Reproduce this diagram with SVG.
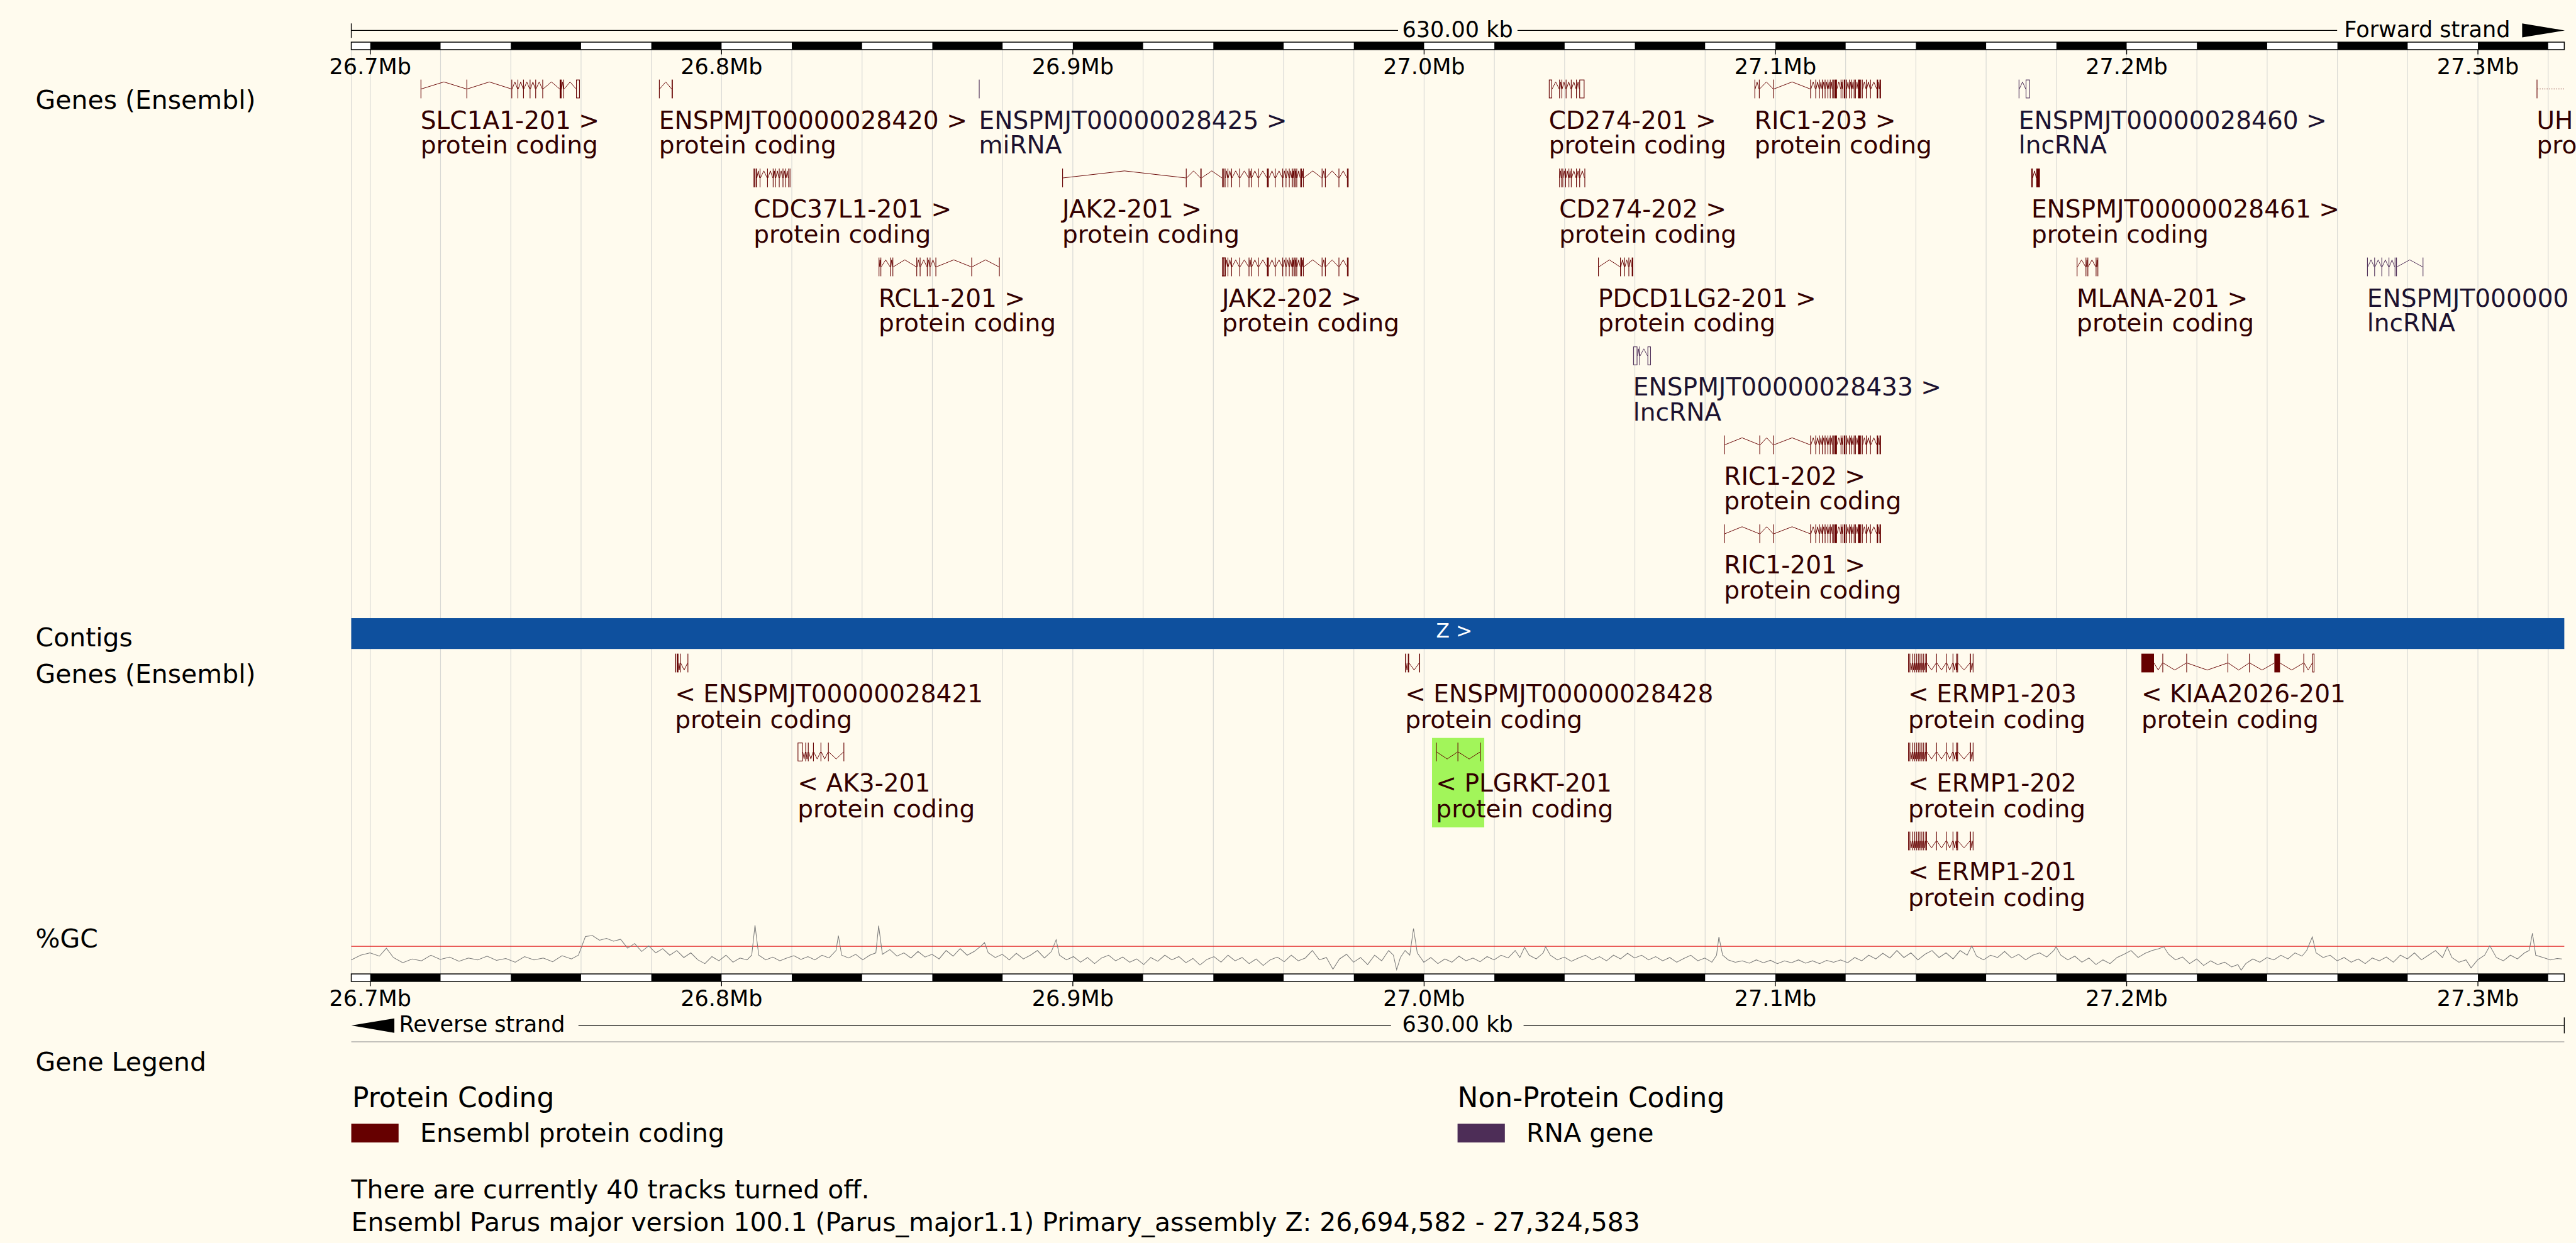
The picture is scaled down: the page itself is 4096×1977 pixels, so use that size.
<svg xmlns="http://www.w3.org/2000/svg" xmlns:xlink="http://www.w3.org/1999/xlink" width="4096" height="1977" viewBox="0 0 4096 1977">
<style>
text{font-family:"DejaVu Sans","Liberation Sans",sans-serif}
.t{font-size:55px;fill:#000}
.r{font-size:47px;fill:#000}
.gl{font-size:52.5px;fill:#330000}
.gn{font-size:52.5px;fill:#1c1230}
.e{fill:#660000}
.eo{fill:none;stroke:#660000;stroke-width:1.5}
.i{fill:none;stroke:#660000;stroke-width:1.3}
.n .e{fill:#4d2d57}
.n .eo{stroke:#4d2d57}
.n .i{stroke:#4d2d57}
.grid line{stroke:#d7d7d3;stroke-width:1.5}
.bk{fill:#000}
.ln{stroke:#000;stroke-width:1.8;fill:none}
</style>
<defs>
<g id="ricD">
<rect class="e" x="0" width="1.5" height="40"/><rect class="e" x="11" width="1.5" height="40"/><rect class="e" x="19" width="1.5" height="40"/><rect class="e" x="25" width="1.5" height="40"/><rect class="e" x="31" width="1.5" height="40"/><rect class="e" x="37" width="1.5" height="40"/><rect class="e" x="42" width="1.5" height="40"/><rect class="e" x="47" width="1.5" height="40"/><rect class="e" x="49.5" width="1.5" height="40"/><rect class="e" x="52" width="5" height="40"/><rect class="e" x="65" width="1.5" height="40"/><rect class="e" x="69" width="1.5" height="40"/><rect class="e" x="72" width="3" height="40"/><rect class="e" x="76" width="2" height="40"/><rect class="e" x="83" width="1.5" height="40"/><rect class="e" x="88" width="1.5" height="40"/><rect class="e" x="93" width="1.5" height="40"/><rect class="e" x="96" width="1.5" height="40"/><rect class="e" x="102" width="6" height="40"/><rect class="e" x="110" width="2" height="40"/><rect class="e" x="119" width="1.5" height="40"/><rect class="e" x="128" width="1.5" height="40"/><rect class="e" x="142" width="3" height="40"/><rect class="e" x="148" width="3" height="40"/>
<path class="i" d="M1.5 20L6.3 5L11 20M12.5 20L15.8 5L19 20M20.5 20L22.8 5L25 20M26.5 20L28.8 5L31 20M32.5 20L34.8 5L37 20M38.5 20L40.3 5L42 20M43.5 20L45.3 5L47 20M57 20L61 5L65 20M66.5 20L67.8 5L69 20M78 20L80.5 5L83 20M84.5 20L86.3 5L88 20M89.5 20L91.3 5L93 20M97.5 20L99.8 5L102 20M112 20L115.5 5L119 20M120.5 20L124.3 5L128 20M129.5 20L135.8 5L142 20M145 20L146.5 5L148 20"/>
</g>
<g id="jakD">
<rect class="e" x="0" width="1.5" height="40"/><rect class="e" x="3" width="1.5" height="40"/><rect class="e" x="6" width="1.5" height="40"/><rect class="e" x="12" width="1.5" height="40"/><rect class="e" x="20" width="1.5" height="40"/><rect class="e" x="37" width="1.5" height="40"/><rect class="e" x="57" width="1.5" height="40"/><rect class="e" x="62" width="1.5" height="40"/><rect class="e" x="77" width="1.5" height="40"/><rect class="e" x="96" width="2.5" height="40"/><rect class="e" x="99" width="1.5" height="40"/><rect class="e" x="113" width="1.5" height="40"/><rect class="e" x="129" width="1.5" height="40"/><rect class="e" x="136" width="1.5" height="40"/><rect class="e" x="143" width="1.5" height="40"/><rect class="e" x="149" width="2" height="40"/><rect class="e" x="153" width="1.5" height="40"/><rect class="e" x="155" width="2" height="40"/><rect class="e" x="159" width="1.5" height="40"/><rect class="e" x="167" width="1.5" height="40"/><rect class="e" x="169" width="1.5" height="40"/><rect class="e" x="173" width="1.5" height="40"/><rect class="e" x="213" width="1.5" height="40"/><rect class="e" x="220" width="1.5" height="40"/><rect class="e" x="249" width="1.5" height="40"/><rect class="e" x="267" width="1.5" height="40"/><rect class="e" x="269" width="1.5" height="40"/>
<path class="i" d="M7.5 20L9.8 5L12 20M13.5 20L16.8 5L20 20M21.5 20L29.3 5L37 20M38.5 20L47.8 5L57 20M58.5 20L60.3 5L62 20M63.5 20L70.3 5L77 20M78.5 20L87.3 5L96 20M100.5 20L106.8 5L113 20M114.5 20L121.8 5L129 20M130.5 20L133.3 5L136 20M137.5 20L140.3 5L143 20M144.5 20L146.8 5L149 20M151 20L152 5L153 20M157 20L158 5L159 20M160.5 20L163.8 5L167 20M170.5 20L171.8 5L173 20M174.5 20L193.8 5L213 20M214.5 20L217.3 5L220 20M221.5 20L235.3 5L249 20M250.5 20L258.8 5L267 20"/>
</g>
<g id="ermp">
<rect class="e" x="0" width="1.5" height="40"/><rect class="e" x="3" width="1.5" height="40"/><rect class="e" x="8.7" width="1.5" height="40"/><rect class="e" x="13" width="1.5" height="40"/><rect class="e" x="17" width="1.5" height="40"/><rect class="e" x="21" width="1.5" height="40"/><rect class="e" x="24.6" width="1.5" height="40"/><rect class="e" x="28.6" width="1.5" height="40"/><rect class="e" x="32.5" width="1.5" height="40"/><rect class="e" x="37" width="3" height="40"/><rect class="e" x="60" width="1.5" height="40"/><rect class="e" x="81" width="1.5" height="40"/><rect class="e" x="95" width="1.5" height="40"/><rect class="e" x="102" width="1.5" height="40"/><rect class="e" x="105" width="1.5" height="40"/><rect class="e" x="132" width="2" height="40"/><rect class="e" x="138" width="1.5" height="40"/>
<path class="i" d="M4.5 20L6.6 35L8.7 20M10.2 20L11.6 35L13 20M14.5 20L15.8 35L17 20M18.5 20L19.8 35L21 20M22.5 20L23.6 35L24.6 20M26.1 20L27.4 35L28.6 20M30.1 20L31.3 35L32.5 20M34 20L35.5 35L37 20M40 20L50 35L60 20M61.5 20L71.3 35L81 20M82.5 20L88.8 35L95 20M96.5 20L99.3 35L102 20M103.5 20L104.3 35L105 20M106.5 20L119.3 35L132 20M134 20L136 35L138 20"/>
</g>
</defs>
<rect width="4096" height="1977" fill="#fffbee"/>
<g transform="scale(0.744727)">
<g class="grid" id="grid">
<line x1="750" y1="106" x2="750" y2="2080"/>
<line x1="790.6" y1="106" x2="790.6" y2="2080"/><line x1="940.6" y1="106" x2="940.6" y2="2080"/><line x1="1090.6" y1="106" x2="1090.6" y2="2080"/><line x1="1240.6" y1="106" x2="1240.6" y2="2080"/><line x1="1390.6" y1="106" x2="1390.6" y2="2080"/><line x1="1540.6" y1="106" x2="1540.6" y2="2080"/><line x1="1690.6" y1="106" x2="1690.6" y2="2080"/><line x1="1840.6" y1="106" x2="1840.6" y2="2080"/><line x1="1990.6" y1="106" x2="1990.6" y2="2080"/><line x1="2140.6" y1="106" x2="2140.6" y2="2080"/><line x1="2290.6" y1="106" x2="2290.6" y2="2080"/><line x1="2440.6" y1="106" x2="2440.6" y2="2080"/><line x1="2590.6" y1="106" x2="2590.6" y2="2080"/><line x1="2740.6" y1="106" x2="2740.6" y2="2080"/><line x1="2890.6" y1="106" x2="2890.6" y2="2080"/><line x1="3040.6" y1="106" x2="3040.6" y2="2080"/><line x1="3190.6" y1="106" x2="3190.6" y2="2080"/><line x1="3340.6" y1="106" x2="3340.6" y2="2080"/><line x1="3490.6" y1="106" x2="3490.6" y2="2080"/><line x1="3640.6" y1="106" x2="3640.6" y2="2080"/><line x1="3790.6" y1="106" x2="3790.6" y2="2080"/><line x1="3940.6" y1="106" x2="3940.6" y2="2080"/><line x1="4090.6" y1="106" x2="4090.6" y2="2080"/><line x1="4240.6" y1="106" x2="4240.6" y2="2080"/><line x1="4390.6" y1="106" x2="4390.6" y2="2080"/><line x1="4540.6" y1="106" x2="4540.6" y2="2080"/><line x1="4690.6" y1="106" x2="4690.6" y2="2080"/><line x1="4840.6" y1="106" x2="4840.6" y2="2080"/><line x1="4990.6" y1="106" x2="4990.6" y2="2080"/><line x1="5140.6" y1="106" x2="5140.6" y2="2080"/><line x1="5290.6" y1="106" x2="5290.6" y2="2080"/><line x1="5440.6" y1="106" x2="5440.6" y2="2080"/>
</g>
<g id="track-labels">
<text class="t" x="76" y="232">Genes (Ensembl)</text>
<text class="t" x="76" y="1380">Contigs</text>
<text class="t" x="76" y="1458">Genes (Ensembl)</text>
<text class="t" x="76" y="2024">%GC</text>
<text class="t" x="76" y="2287">Gene Legend</text>
</g>
<g id="top-ruler">
<path class="ln" d="M750 65H2985M3240 65H4990M750 50V81"/>
<text class="r" x="3112" y="79" text-anchor="middle">630.00 kb</text>
<text class="r" x="5005" y="79">Forward strand</text>
<polygon class="bk" points="5385,50 5476,65 5385,80"/>
<rect x="750" y="90" width="4725" height="16" fill="#fff" stroke="#000" stroke-width="2"/>
<g class="bk"><rect x="790.6" y="90" width="150" height="16"/><rect x="1090.6" y="90" width="150" height="16"/><rect x="1390.6" y="90" width="150" height="16"/><rect x="1690.6" y="90" width="150" height="16"/><rect x="1990.6" y="90" width="150" height="16"/><rect x="2290.6" y="90" width="150" height="16"/><rect x="2590.6" y="90" width="150" height="16"/><rect x="2890.6" y="90" width="150" height="16"/><rect x="3190.6" y="90" width="150" height="16"/><rect x="3490.6" y="90" width="150" height="16"/><rect x="3790.6" y="90" width="150" height="16"/><rect x="4090.6" y="90" width="150" height="16"/><rect x="4390.6" y="90" width="150" height="16"/><rect x="4690.6" y="90" width="150" height="16"/><rect x="4990.6" y="90" width="150" height="16"/><rect x="5290.6" y="90" width="150" height="16"/></g>
<path class="ln" d="M790.6 106V116M1540.6 106V116M2290.6 106V116M3040.6 106V116M3790.6 106V116M4540.6 106V116M5290.6 106V116"/>
<g class="r" text-anchor="middle"><text class="r" x="790.6" y="159">26.7Mb</text><text class="r" x="1540.6" y="159">26.8Mb</text><text class="r" x="2290.6" y="159">26.9Mb</text><text class="r" x="3040.6" y="159">27.0Mb</text><text class="r" x="3790.6" y="159">27.1Mb</text><text class="r" x="4540.6" y="159">27.2Mb</text><text class="r" x="5290.6" y="159">27.3Mb</text></g>
</g>
<g id="gene-SLC1A1-201" transform="translate(898,170)">
<rect class="e" x="0" width="1.5" height="40"/><rect class="e" x="98" width="1.5" height="40"/><rect class="e" x="194" width="1.5" height="40"/><rect class="e" x="207" width="1.5" height="40"/><rect class="e" x="219" width="1.5" height="40"/><rect class="e" x="233" width="1.5" height="40"/><rect class="e" x="245" width="1.5" height="40"/><rect class="e" x="260" width="1.5" height="40"/><rect class="e" x="297" width="4" height="40"/><rect class="e" x="305" width="1.5" height="40"/><rect class="eo" x="332.75" y="0.75" width="6.5" height="38.5"/>
<path class="i" d="M1.5 20L49.8 5L98 20M99.5 20L146.8 5L194 20M195.5 20L201.3 5L207 20M208.5 20L213.8 5L219 20M220.5 20L226.8 5L233 20M234.5 20L239.8 5L245 20M246.5 20L253.3 5L260 20M261.5 20L279.3 5L297 20M301 20L303 5L305 20M306.5 20L319.3 5L332 20"/>
<text class="gl" x="0" y="105">SLC1A1-201 &gt;</text><text class="gl" x="0" y="158">protein coding</text>
</g>
<g id="gene-ENSPMJT00000028420" transform="translate(1407,170)">
<rect class="e" x="0" width="1.5" height="40"/><rect class="e" x="27" width="2.5" height="40"/>
<path class="i" d="M1.5 20L14.3 5L27 20"/>
<text class="gl" x="0" y="105">ENSPMJT00000028420 &gt;</text><text class="gl" x="0" y="158">protein coding</text>
</g>
<g id="gene-ENSPMJT00000028425" class="n" transform="translate(2090,170)">
<rect class="e" x="0" width="1.5" height="40"/>
<text class="gn" x="0" y="105">ENSPMJT00000028425 &gt;</text><text class="gn" x="0" y="158">miRNA</text>
</g>
<g id="gene-CD274-201" transform="translate(3307,170)">
<rect class="eo" x="0.75" y="0.75" width="5.5" height="38.5"/><rect class="e" x="22" width="1.5" height="40"/><rect class="e" x="27" width="1.5" height="40"/><rect class="e" x="36" width="1.5" height="40"/><rect class="e" x="47" width="1.5" height="40"/><rect class="e" x="58" width="1.5" height="40"/><rect class="eo" x="65.75" y="0.75" width="9.5" height="38.5"/>
<path class="i" d="M7 20L14.5 5L22 20M23.5 20L25.3 5L27 20M28.5 20L32.3 5L36 20M37.5 20L42.3 5L47 20M48.5 20L53.3 5L58 20M59.5 20L62.3 5L65 20"/>
<text class="gl" x="0" y="105">CD274-201 &gt;</text><text class="gl" x="0" y="158">protein coding</text>
</g>
<g id="gene-RIC1-203" transform="translate(3746,170)">
<rect class="e" x="0" width="1.5" height="40"/><rect class="e" x="9.5" width="1.5" height="40"/><rect class="e" x="40" width="1.5" height="40"/>
<path class="i" d="M1.5 20L5.5 5L9.5 20M11 20L25.5 5L40 20M41.5 20L80.3 5L119 20"/>
<use xlink:href="#ricD" x="119"/>
<text class="gl" x="0" y="105">RIC1-203 &gt;</text><text class="gl" x="0" y="158">protein coding</text>
</g>
<g id="gene-ENSPMJT00000028460" class="n" transform="translate(4310,170)">
<rect class="e" x="0" width="1.5" height="40"/><rect class="eo" x="15.75" y="0.75" width="7.5" height="38.5"/>
<path class="i" d="M1.5 20L8.3 5L15 20"/>
<text class="gn" x="0" y="105">ENSPMJT00000028460 &gt;</text><text class="gn" x="0" y="158">lncRNA</text>
</g>
<g id="gene-UH" transform="translate(5416,170)">
<rect class="e" x="0" width="1.5" height="40"/>
<path class="i" d="M1.5 20H59" stroke-dasharray="2 3"/>
<text class="gl" x="0" y="105">UH</text><text class="gl" x="0" y="158">pro</text>
</g>
<g id="gene-CDC37L1-201" transform="translate(1609,360)">
<rect class="e" x="0" width="2.5" height="40"/><rect class="e" x="4.5" width="2.5" height="40"/><rect class="e" x="13" width="1.5" height="40"/><rect class="e" x="29" width="1.5" height="40"/><rect class="e" x="41" width="1.5" height="40"/><rect class="e" x="46" width="1.5" height="40"/><rect class="e" x="54" width="1.5" height="40"/><rect class="e" x="62" width="1.5" height="40"/><rect class="e" x="68" width="1.5" height="40"/><rect class="e" x="74" width="1.5" height="40"/><rect class="e" x="77" width="1.5" height="40"/>
<path class="i" d="M7 20L10 5L13 20M14.5 20L21.8 5L29 20M30.5 20L35.8 5L41 20M42.5 20L44.3 5L46 20M47.5 20L50.8 5L54 20M55.5 20L58.8 5L62 20M63.5 20L65.8 5L68 20M69.5 20L71.8 5L74 20"/>
<text class="gl" x="0" y="105">CDC37L1-201 &gt;</text><text class="gl" x="0" y="158">protein coding</text>
</g>
<g id="gene-JAK2-201" transform="translate(2268,360)">
<rect class="e" x="0" width="1.5" height="40"/><rect class="e" x="264" width="1.5" height="40"/><rect class="e" x="295" width="2.5" height="40"/>
<path class="i" d="M1.5 20L132.8 5L264 20M265.5 20L280.3 5L295 20M297.5 20L319.3 5L341 20"/>
<use xlink:href="#jakD" x="341"/>
<text class="gl" x="0" y="105">JAK2-201 &gt;</text><text class="gl" x="0" y="158">protein coding</text>
</g>
<g id="gene-CD274-202" transform="translate(3329,360)">
<rect class="e" x="0" width="1.5" height="40"/><rect class="e" x="4.5" width="1.5" height="40"/><rect class="e" x="7" width="1.5" height="40"/><rect class="e" x="13" width="1.5" height="40"/><rect class="e" x="20" width="1.5" height="40"/><rect class="e" x="25" width="1.5" height="40"/><rect class="e" x="36" width="1.5" height="40"/><rect class="e" x="43" width="1.5" height="40"/><rect class="e" x="54" width="1.5" height="40"/>
<path class="i" d="M1.5 20L3 5L4.5 20M8.5 20L10.8 5L13 20M14.5 20L17.3 5L20 20M21.5 20L23.3 5L25 20M26.5 20L31.3 5L36 20M37.5 20L40.3 5L43 20M44.5 20L49.3 5L54 20"/>
<text class="gl" x="0" y="105">CD274-202 &gt;</text><text class="gl" x="0" y="158">protein coding</text>
</g>
<g id="gene-ENSPMJT00000028461" transform="translate(4337,360)">
<rect class="e" x="0" width="3" height="40"/><rect class="e" x="10.7" width="7.7" height="40"/>
<path class="i" d="M3 20L6.9 5L10.7 20"/>
<text class="gl" x="0" y="105">ENSPMJT00000028461 &gt;</text><text class="gl" x="0" y="158">protein coding</text>
</g>
<g id="gene-RCL1-201" transform="translate(1876,550)">
<rect class="e" x="0" width="1.5" height="40"/><rect class="e" x="4" width="1.5" height="40"/><rect class="e" x="24.5" width="1.5" height="40"/><rect class="e" x="29.6" width="1.5" height="40"/><rect class="e" x="80.6" width="1.5" height="40"/><rect class="e" x="87.8" width="1.5" height="40"/><rect class="e" x="103" width="1.5" height="40"/><rect class="e" x="109" width="1.5" height="40"/><rect class="e" x="121.4" width="1.5" height="40"/><rect class="e" x="197.9" width="1.5" height="40"/><rect class="e" x="257" width="1.5" height="40"/>
<path class="i" d="M1.5 20L2.8 5L4 20M5.5 20L15 5L24.5 20M26 20L27.8 5L29.6 20M31.1 20L55.9 5L80.6 20M82.1 20L85 5L87.8 20M89.3 20L96.2 5L103 20M104.5 20L106.8 5L109 20M110.5 20L116 5L121.4 20M122.9 20L160.4 5L197.9 20M199.4 20L228.2 5L257 20"/>
<text class="gl" x="0" y="105">RCL1-201 &gt;</text><text class="gl" x="0" y="158">protein coding</text>
</g>
<g id="gene-JAK2-202" transform="translate(2609,550)">
<rect class="eo" x="0.75" y="0.75" width="6.5" height="38.5"/>
<use xlink:href="#jakD" x="0"/>
<text class="gl" x="0" y="105">JAK2-202 &gt;</text><text class="gl" x="0" y="158">protein coding</text>
</g>
<g id="gene-PDCD1LG2-201" transform="translate(3412,550)">
<rect class="e" x="0" width="1.5" height="40"/><rect class="e" x="47" width="1.5" height="40"/><rect class="e" x="56" width="1.5" height="40"/><rect class="e" x="65" width="1.5" height="40"/><rect class="e" x="72" width="3" height="40"/>
<path class="i" d="M1.5 20L24.3 5L47 20M48.5 20L52.3 5L56 20M57.5 20L61.3 5L65 20M66.5 20L69.3 5L72 20"/>
<text class="gl" x="0" y="105">PDCD1LG2-201 &gt;</text><text class="gl" x="0" y="158">protein coding</text>
</g>
<g id="gene-MLANA-201" transform="translate(4434,550)">
<rect class="e" x="0" width="1.5" height="40"/><rect class="e" x="19" width="1.5" height="40"/><rect class="e" x="23" width="1.5" height="40"/><rect class="e" x="40.6" width="1.5" height="40"/><rect class="e" x="44.4" width="1.5" height="40"/>
<path class="i" d="M1.5 20L10.3 5L19 20M20.5 20L21.8 5L23 20M24.5 20L32.6 5L40.6 20M42.1 20L43.3 5L44.4 20"/>
<text class="gl" x="0" y="105">MLANA-201 &gt;</text><text class="gl" x="0" y="158">protein coding</text>
</g>
<g id="gene-ENSPMJT-lnc-right" class="n" transform="translate(5054,550)">
<rect class="e" x="0" width="1.5" height="40"/><rect class="e" x="15.3" width="1.5" height="40"/><rect class="e" x="30.6" width="1.5" height="40"/><rect class="e" x="45.9" width="1.5" height="40"/><rect class="e" x="58.9" width="1.5" height="40"/><rect class="e" x="62" width="1.5" height="40"/><rect class="e" x="118.6" width="1.5" height="40"/>
<path class="i" d="M1.5 20L8.4 5L15.3 20M16.8 20L23.7 5L30.6 20M32.1 20L39 5L45.9 20M47.4 20L53.2 5L58.9 20M63.5 20L91.1 5L118.6 20"/>
<text class="gn" x="0" y="105">ENSPMJT000000</text><text class="gn" x="0" y="158">lncRNA</text>
</g>
<g id="gene-ENSPMJT00000028433" class="n" transform="translate(3487,740)">
<rect class="eo" x="0.75" y="0.75" width="7.5" height="38.5"/><rect class="e" x="13.3" width="1.5" height="40"/><rect class="eo" x="31.35" y="0.75" width="5.7" height="38.5"/>
<path class="i" d="M9 20L11.2 5L13.3 20M14.8 20L22.7 5L30.6 20"/>
<text class="gn" x="0" y="105">ENSPMJT00000028433 &gt;</text><text class="gn" x="0" y="158">lncRNA</text>
</g>
<g id="gene-RIC1-202" transform="translate(3681,930)">
<rect class="e" x="0" width="1.5" height="40"/><rect class="e" x="75.5" width="1.5" height="40"/><rect class="e" x="105" width="1.5" height="40"/>
<path class="i" d="M1.5 20L38.5 5L75.5 20M77 20L91 5L105 20M106.5 20L145.3 5L184 20"/>
<use xlink:href="#ricD" x="184"/>
<text class="gl" x="0" y="105">RIC1-202 &gt;</text><text class="gl" x="0" y="158">protein coding</text>
</g>
<g id="gene-RIC1-201" transform="translate(3681,1120)">
<rect class="e" x="0" width="1.5" height="40"/><rect class="e" x="75.5" width="1.5" height="40"/><rect class="e" x="105" width="1.5" height="40"/>
<path class="i" d="M1.5 20L38.5 5L75.5 20M77 20L91 5L105 20M106.5 20L145.3 5L184 20"/>
<use xlink:href="#ricD" x="184"/>
<text class="gl" x="0" y="105">RIC1-201 &gt;</text><text class="gl" x="0" y="158">protein coding</text>
</g>
<g id="contig-Z">
<rect x="750" y="1320" width="4725" height="66" fill="#0e509e"/>
<text x="3105" y="1362" font-size="42" fill="#fff" text-anchor="middle">Z &gt;</text>
</g>
<g id="gene-ENSPMJT00000028421" transform="translate(1441,1396)">
<rect class="e" x="0" width="2" height="40"/><rect class="e" x="4" width="3.5" height="40"/><rect class="e" x="10.8" width="1.5" height="40"/><rect class="e" x="27" width="1.5" height="40"/>
<path class="i" d="M7.5 20L9.2 35L10.8 20M12.3 20L19.7 35L27 20"/>
<text class="gl" x="0" y="104">&lt; ENSPMJT00000028421</text><text class="gl" x="0" y="159">protein coding</text>
</g>
<g id="gene-ENSPMJT00000028428" transform="translate(3000,1396)">
<rect class="e" x="0" width="2" height="40"/><rect class="e" x="6" width="2.5" height="40"/><rect class="e" x="30" width="2" height="40"/>
<path class="i" d="M2 20L4 35L6 20M8.5 20L19.3 35L30 20"/>
<text class="gl" x="0" y="104">&lt; ENSPMJT00000028428</text><text class="gl" x="0" y="159">protein coding</text>
</g>
<g id="gene-ERMP1-203" transform="translate(4074,1396)">
<use xlink:href="#ermp"/>
<text class="gl" x="0" y="104">&lt; ERMP1-203</text><text class="gl" x="0" y="159">protein coding</text>
</g>
<g id="gene-KIAA2026-201" transform="translate(4572,1396)">
<rect class="e" x="0" width="27" height="40"/><rect class="e" x="45" width="1.5" height="40"/><rect class="e" x="96" width="1.5" height="40"/><rect class="e" x="184" width="1.5" height="40"/><rect class="e" x="230" width="1.5" height="40"/><rect class="e" x="284" width="12" height="40"/><rect class="e" x="346" width="1.5" height="40"/><rect class="eo" x="365.75" y="0.75" width="3" height="38.5"/>
<path class="i" d="M27 20L36 35L45 20M46.5 20L71.3 35L96 20M97.5 20L140.8 35L184 20M185.5 20L207.8 35L230 20M231.5 20L257.8 35L284 20M296 20L321 35L346 20M347.5 20L356.3 35L365 20"/>
<text class="gl" x="0" y="104">&lt; KIAA2026-201</text><text class="gl" x="0" y="159">protein coding</text>
</g>
<g id="gene-AK3-201" transform="translate(1703,1586)">
<rect class="eo" x="0.75" y="0.75" width="9.5" height="38.5"/><rect class="e" x="16.5" width="1.5" height="40"/><rect class="e" x="22" width="1.5" height="40"/><rect class="e" x="33" width="1.5" height="40"/><rect class="e" x="49" width="1.5" height="40"/><rect class="e" x="65" width="1.5" height="40"/><rect class="e" x="98" width="1.5" height="40"/>
<path class="i" d="M11 20L13.8 35L16.5 20M18 20L20 35L22 20M23.5 20L28.3 35L33 20M34.5 20L41.8 35L49 20M50.5 20L57.8 35L65 20M66.5 20L82.3 35L98 20"/>
<text class="gl" x="0" y="104">&lt; AK3-201</text><text class="gl" x="0" y="159">protein coding</text>
</g>
<g id="gene-PLGRKT-201">
<rect x="3057.5" y="1576" width="111.5" height="191" fill="#a2f55a"/>
<g transform="translate(3066,1586)">
<rect class="e" x="0" width="1.5" height="40"/><rect class="e" x="46" width="1.5" height="40"/><rect class="e" x="94" width="1.5" height="40"/>
<path class="i" d="M1.5 20L23.8 35L46 20M47.5 20L70.8 35L94 20"/>
<text class="gl" x="0" y="104">&lt; PLGRKT-201</text><text class="gl" x="0" y="159">protein coding</text>
</g>
</g>
<g id="gene-ERMP1-202" transform="translate(4074,1586)">
<use xlink:href="#ermp"/>
<text class="gl" x="0" y="104">&lt; ERMP1-202</text><text class="gl" x="0" y="159">protein coding</text>
</g>
<g id="gene-ERMP1-201" transform="translate(4074,1776)">
<use xlink:href="#ermp"/>
<text class="gl" x="0" y="104">&lt; ERMP1-201</text><text class="gl" x="0" y="159">protein coding</text>
</g>
<g id="gc-track">
<line x1="750" y1="2021" x2="5475" y2="2021" stroke="#e02020" stroke-width="1.8"/>
<polyline fill="none" stroke="#7a7a7a" stroke-width="1.4" points="750,2050 770,2040 790,2035 810,2042 825,2025 840,2045 860,2056 880,2048 900,2052 920,2040 940,2049 960,2044 980,2053 1000,2046 1020,2050 1040,2042 1060,2051 1080,2047 1100,2055 1120,2043 1140,2050 1160,2046 1180,2054 1200,2041 1220,2048 1235,2040 1250,2000 1265,1998 1280,2008 1295,2004 1310,2010 1325,2006 1340,2025 1355,2015 1370,2032 1385,2020 1400,2035 1415,2026 1430,2040 1445,2030 1460,2045 1475,2035 1490,2050 1505,2058 1520,2043 1535,2052 1550,2040 1565,2055 1580,2046 1595,2050 1605,2040 1612,1976 1620,2040 1635,2050 1650,2044 1665,2052 1680,2046 1695,2041 1710,2049 1725,2043 1740,2050 1755,2040 1770,2046 1785,2030 1790,1998 1797,2040 1812,2046 1827,2038 1842,2050 1857,2040 1870,2035 1876,1977 1884,2038 1900,2028 1915,2042 1930,2035 1945,2046 1960,2032 1975,2044 1990,2038 2005,2048 2020,2030 2035,2042 2050,2026 2065,2040 2080,2032 2095,2020 2102,2013 2110,2035 2125,2045 2140,2038 2155,2050 2170,2036 2185,2048 2200,2040 2215,2030 2230,2046 2245,2032 2255,2007 2262,2040 2277,2050 2292,2043 2307,2055 2322,2045 2337,2058 2352,2046 2367,2040 2382,2052 2397,2044 2412,2055 2427,2048 2442,2060 2457,2045 2472,2053 2487,2040 2502,2050 2517,2043 2532,2056 2547,2047 2562,2061 2577,2049 2592,2043 2607,2055 2622,2040 2637,2052 2652,2045 2667,2058 2682,2048 2697,2062 2712,2050 2727,2044 2742,2054 2757,2040 2772,2052 2787,2046 2802,2030 2817,2050 2832,2045 2846,2070 2860,2048 2875,2038 2890,2055 2905,2045 2920,2060 2935,2040 2950,2052 2965,2030 2975,2040 2982,2071 2990,2045 3000,2030 3010,2040 3018,1983 3026,2035 3040,2055 3055,2045 3070,2058 3085,2048 3100,2055 3115,2042 3130,2052 3145,2046 3160,2054 3175,2043 3190,2050 3205,2040 3220,2046 3235,2030 3245,2045 3255,2023 3265,2040 3280,2048 3295,2035 3300,2022 3310,2040 3325,2050 3340,2044 3355,2053 3370,2046 3385,2040 3400,2050 3415,2043 3430,2052 3445,2040 3460,2048 3475,2036 3490,2046 3505,2040 3520,2050 3535,2043 3550,2052 3565,2045 3580,2055 3595,2047 3610,2040 3625,2052 3640,2046 3655,2055 3665,2040 3670,2001 3678,2040 3690,2050 3705,2055 3720,2052 3735,2057 3750,2050 3765,2056 3780,2051 3795,2058 3810,2052 3825,2056 3840,2050 3855,2057 3870,2052 3885,2058 3900,2051 3915,2055 3930,2050 3945,2056 3960,2045 3975,2052 3990,2040 4005,2048 4020,2036 4035,2046 4050,2030 4065,2045 4080,2035 4095,2050 4110,2038 4125,2030 4140,2045 4155,2035 4170,2048 4185,2030 4200,2040 4210,2020 4220,2042 4235,2050 4250,2040 4265,2045 4280,2032 4295,2046 4310,2038 4325,2050 4340,2040 4355,2035 4370,2044 4385,2030 4390,2022 4400,2040 4415,2050 4430,2042 4445,2055 4460,2046 4475,2060 4490,2050 4505,2058 4520,2045 4535,2038 4550,2030 4565,2045 4580,2036 4595,2030 4610,2026 4620,2022 4630,2038 4645,2050 4660,2044 4675,2058 4690,2048 4705,2062 4720,2052 4735,2060 4750,2055 4765,2065 4778,2060 4785,2072 4795,2058 4810,2048 4825,2055 4840,2045 4855,2050 4870,2040 4885,2048 4900,2035 4915,2042 4925,2030 4937,2001 4945,2035 4960,2045 4975,2040 4990,2052 5005,2045 5020,2055 5035,2048 5050,2058 5065,2046 5080,2052 5095,2044 5110,2055 5125,2040 5140,2048 5155,2035 5170,2050 5185,2040 5200,2030 5215,2045 5225,2022 5235,2045 5250,2055 5265,2050 5276,2067 5290,2050 5305,2040 5316,2020 5330,2045 5345,2052 5360,2040 5375,2048 5390,2035 5400,2030 5407,1993 5414,2040 5430,2045 5445,2050 5460,2047 5470,2048"/>
</g>
<g id="bottom-ruler">
<rect x="750" y="2080" width="4725" height="16" fill="#fff" stroke="#000" stroke-width="2"/>
<g class="bk"><rect x="790.6" y="2080" width="150" height="16"/><rect x="1090.6" y="2080" width="150" height="16"/><rect x="1390.6" y="2080" width="150" height="16"/><rect x="1690.6" y="2080" width="150" height="16"/><rect x="1990.6" y="2080" width="150" height="16"/><rect x="2290.6" y="2080" width="150" height="16"/><rect x="2590.6" y="2080" width="150" height="16"/><rect x="2890.6" y="2080" width="150" height="16"/><rect x="3190.6" y="2080" width="150" height="16"/><rect x="3490.6" y="2080" width="150" height="16"/><rect x="3790.6" y="2080" width="150" height="16"/><rect x="4090.6" y="2080" width="150" height="16"/><rect x="4390.6" y="2080" width="150" height="16"/><rect x="4690.6" y="2080" width="150" height="16"/><rect x="4990.6" y="2080" width="150" height="16"/><rect x="5290.6" y="2080" width="150" height="16"/></g>
<path class="ln" d="M790.6 2096V2106M1540.6 2096V2106M2290.6 2096V2106M3040.6 2096V2106M3790.6 2096V2106M4540.6 2096V2106M5290.6 2096V2106"/>
<g text-anchor="middle"><text class="r" x="790.6" y="2148">26.7Mb</text><text class="r" x="1540.6" y="2148">26.8Mb</text><text class="r" x="2290.6" y="2148">26.9Mb</text><text class="r" x="3040.6" y="2148">27.0Mb</text><text class="r" x="3790.6" y="2148">27.1Mb</text><text class="r" x="4540.6" y="2148">27.2Mb</text><text class="r" x="5290.6" y="2148">27.3Mb</text></g>
<polygon class="bk" points="750,2190 842,2175 842,2206"/>
<text class="r" x="852" y="2204">Reverse strand</text>
<path class="ln" d="M1235 2190H2970M3253 2190H5475M5475 2173V2207"/>
<text class="r" x="3112" y="2204" text-anchor="middle">630.00 kb</text>
<line x1="750" y1="2225" x2="5475" y2="2225" stroke="#8a8a8a" stroke-width="1.5"/>
</g>
<g id="legend">
<text x="752" y="2364" font-size="59" fill="#000">Protein Coding</text>
<rect x="750" y="2400" width="101" height="40" fill="#660000"/>
<text class="t" x="897" y="2438">Ensembl protein coding</text>
<text x="3112" y="2364" font-size="59" fill="#000">Non-Protein Coding</text>
<rect x="3112" y="2400" width="101" height="40" fill="#4d2d57"/>
<text class="t" x="3259" y="2438">RNA gene</text>
<text class="t" x="750" y="2559">There are currently 40 tracks turned off.</text>
<text class="t" x="750" y="2629">Ensembl Parus major version 100.1 (Parus_major1.1) Primary_assembly Z: 26,694,582 - 27,324,583</text>
</g>
</g>
</svg>
